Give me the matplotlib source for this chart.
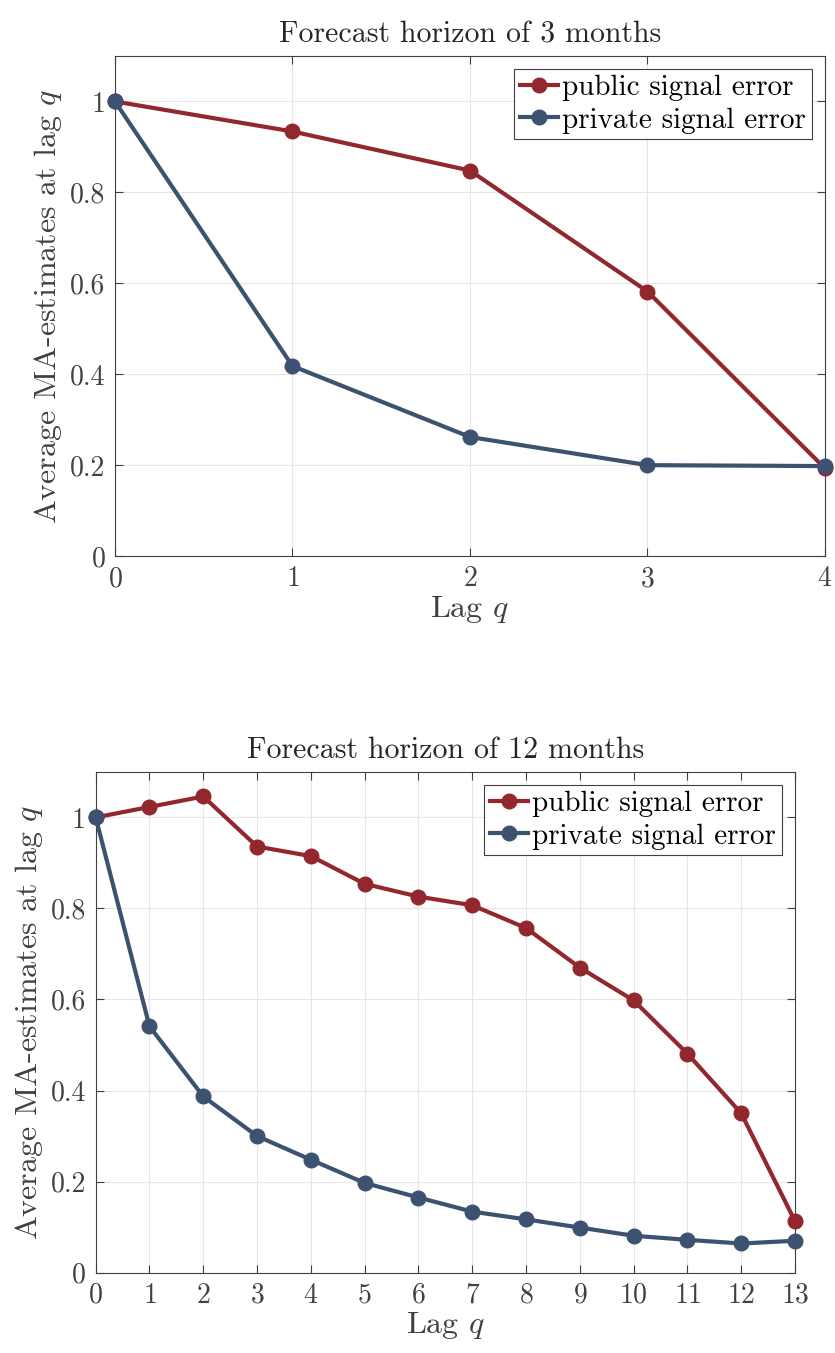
import matplotlib
matplotlib.use("Agg")
import matplotlib.pyplot as plt

plt.rcParams['font.family'] = 'serif'
plt.rcParams['font.serif'] = ['cmr10', 'DejaVu Serif']
plt.rcParams['mathtext.fontset'] = 'cm'
plt.rcParams['axes.formatter.use_mathtext'] = True

# data
lags_3m = [0, 1, 2, 3, 4]
public_3m = [1.0, 0.934, 0.848, 0.582, 0.193]
private_3m = [1.0, 0.418, 0.262, 0.200, 0.198]

lags_12m = list(range(14))
public_12m = [1.0, 1.023, 1.046, 0.936, 0.915, 0.854, 0.826, 0.807, 0.757,
              0.670, 0.598, 0.481, 0.350, 0.113]
private_12m = [1.0, 0.541, 0.387, 0.300, 0.248, 0.197, 0.165, 0.134, 0.117,
               0.099, 0.081, 0.072, 0.064, 0.070]

yticks = [0, 0.2, 0.4, 0.6, 0.8, 1]
ytick_labels = ['0', '0.2', '0.4', '0.6', '0.8', '1']

red = '#93272e'
blue = '#3c5270'
txt = '#262626'

fig = plt.figure(figsize=(8.35, 13.53), dpi=100)
ax1 = fig.add_axes([0.1377, 0.589, 0.8503, 0.3696])
ax2 = fig.add_axes([0.1146, 0.0594, 0.8375, 0.3701])

def style(ax, lags, pub, priv, title):
    ax.plot(lags, pub, '-o', color=red, lw=3, ms=10.5, label='public signal error', zorder=3, clip_on=False)
    ax.plot(lags, priv, '-o', color=blue, lw=3, ms=10.5, label='private signal error', zorder=4, clip_on=False)
    ax.set_xlim(lags[0], lags[-1])
    ax.set_ylim(0, 1.1)
    ax.set_xticks(lags)
    ax.set_yticks(yticks)
    ax.set_yticklabels(ytick_labels)
    ax.grid(True, color='#e6e6e6', lw=0.8)
    ax.set_axisbelow(True)
    ax.tick_params(direction='in', top=True, right=True, labelsize=20,
                   colors='#404040', length=6, width=0.8, pad=7)
    for s in ax.spines.values():
        s.set_color('#404040')
        s.set_linewidth(0.8)
    ax.set_title(title, fontsize=21.5, color=txt, pad=10)
    ax.set_xlabel('Lag $q$', fontsize=23, color='#404040', labelpad=1)
    ax.set_ylabel('Average MA-estimates at lag $q$', fontsize=23, color='#404040', labelpad=4)
    leg = ax.legend(loc='upper right', fontsize=21, fancybox=False, framealpha=1,
                    edgecolor='#404040', handlelength=1.3, handletextpad=0.15,
                    borderpad=0.2, labelspacing=0.2, borderaxespad=0.45)
    leg.get_frame().set_linewidth(0.8)

style(ax1, lags_3m, public_3m, private_3m, 'Forecast horizon of 3 months')
style(ax2, lags_12m, public_12m, private_12m, 'Forecast horizon of 12 months')

fig.savefig('out.png', dpi=100)
